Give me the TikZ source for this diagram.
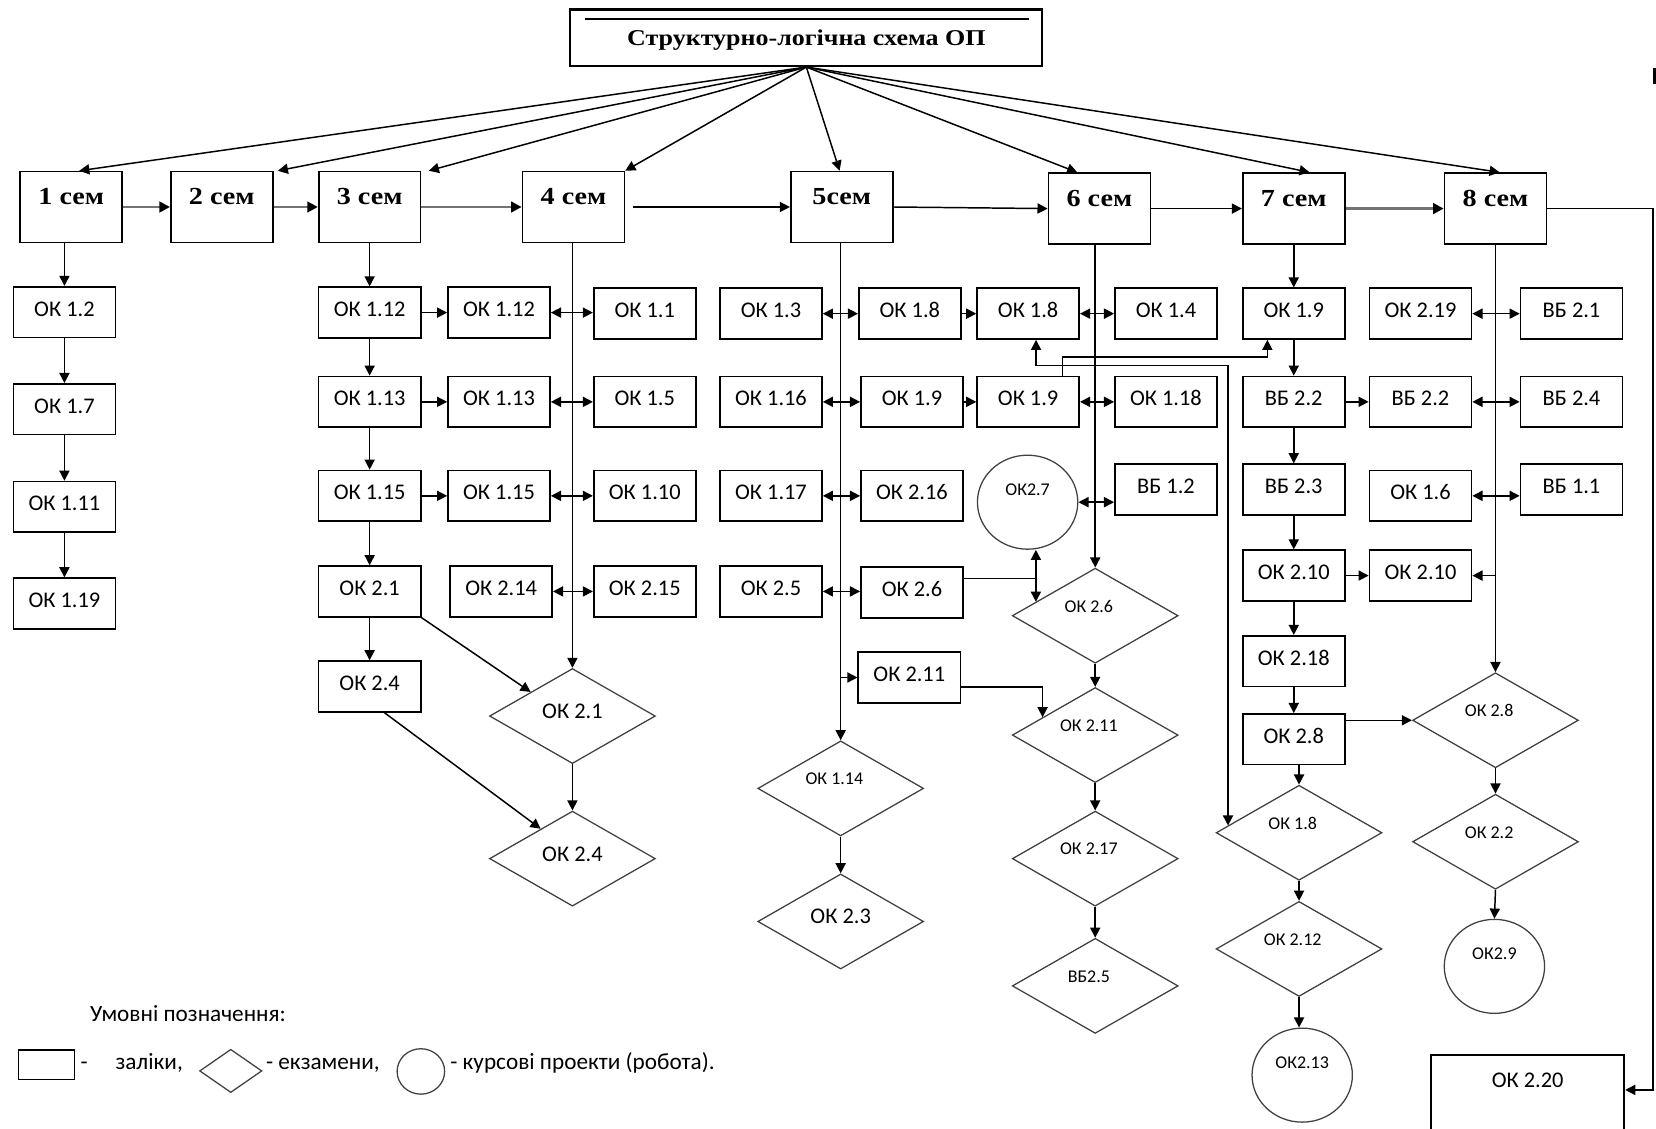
\documentclass[tikz,border=0pt]{standalone}
\usepackage{fontspec}
\setmainfont{Carlito}
\newfontfamily\semfont[FakeStretch=1.15]{Liberation Serif}
\usetikzlibrary{arrows.meta,shapes.geometric,calc}
\begin{document}
\begin{tikzpicture}[x=0.5pt,y=-0.5pt,
  every node/.style={inner sep=0pt},
  ln/.style={line width=0.7pt},
  arr/.style={ln,-{Triangle[length=4.8pt,width=4.8pt]}},
  dbl/.style={ln,{Triangle[length=4.8pt,width=4.8pt]}-{Triangle[length=4.8pt,width=4.8pt]}},
  semg/.style={line width=1.4pt,draw=black!55,-{Triangle[length=5pt,width=5pt,color=black]}},
  zbox/.style={draw,line width=0.8pt,minimum width=48.3pt,minimum height=24pt,
    font=\fontsize{10.6pt}{12pt}\selectfont,text height=6.8pt,text depth=3pt},
  sembox/.style={draw,line width=0.8pt,minimum width=48.25pt,minimum height=33.5pt,
    font=\semfont\bfseries\fontsize{11.6pt}{13pt}\selectfont,text height=7.8pt,text depth=10pt},
  dia/.style={diamond,aspect=1.75,draw=black!75,line width=0.6pt,minimum width=78.5pt,minimum height=45pt,
    font=\fontsize{8.5pt}{10pt}\selectfont,text height=5.5pt,text depth=9pt,
    execute at end node={\hspace*{6pt}}},
  bigdia/.style={diamond,aspect=1.75,draw=black!75,line width=0.6pt,minimum width=78.5pt,minimum height=45pt,
    font=\fontsize{10.6pt}{12pt}\selectfont,text height=6.8pt,text depth=4.5pt},
  ell/.style={ellipse,draw=black!75,line width=0.6pt,minimum width=47.5pt,minimum height=44.5pt,
    font=\fontsize{8.5pt}{10pt}\selectfont,text height=5.5pt,text depth=12pt},
  lgtext/.style={anchor=base west,font=\fontsize{11pt}{13pt}\selectfont}
]
\useasboundingbox (0,0) rectangle (1568,1069);
\clip (0,0) rectangle (1568,1069);

% title
\node[draw,line width=1pt,minimum width=223.5pt,minimum height=26.75pt,
  font=\semfont\bfseries\fontsize{10.7pt}{12pt}\selectfont,text height=7pt,text depth=0pt]
  (title) at (763.5,35.75) {Структурно-логічна схема ОП};
\draw[line width=0.9pt] ($(title.north west)+(15,10)$) -- ($(title.north east)+(-14,10)$);

% semesters
\node[sembox] (s1) at (67.5,196) {1 сем};
\node[sembox] (s2) at (210,196) {2 сем};
\node[sembox] (s3) at (350,196) {3 сем};
\node[sembox] (s4) at (543,196) {4 сем};
\node[sembox] (s5) at (797,196) {5сем};
\node[sembox] (s6) at (1041,197.5) {6 сем};
\node[sembox] (s7) at (1225,197.5) {7 сем};
\node[sembox] (s8) at (1416,197.5) {8 сем};

\draw[arr] (title.south) -- ([xshift=3.75pt]s1.north);
\draw[arr] (title.south) -- ([xshift=2pt]s2.north east);
\draw[arr] (title.south) -- ([xshift=3.5pt]s3.north east);
\draw[arr] (title.south) -- (s4.north east);
\draw[arr] (title.south) -- ([xshift=-1pt]s5.north);
\draw[arr] (title.south) -- ([xshift=-10.5pt]s6.north);
\draw[arr] (title.south) -- ([xshift=7.5pt]s7.north);
\draw[arr] (title.south) -- ([xshift=2pt]s8.north);

\draw[semg] (s1.east) -- (s2.west);
\draw[semg] (s2.east) -- (s3.west);
\draw[semg] (s3.east) -- (s4.west);
\draw[arr] ([xshift=3.5pt]s4.east) -- (s5.west);
\draw[arr] (s5.east) -- (s6.west);
\draw[arr] (s6.east) -- (s7.west);
\draw[semg] (s7.east) -- (s8.west);

% column 1
\node[zbox] (a1) at (61,295.5) {ОК 1.2};
\node[zbox] (a2) at (61,387.5) {ОК 1.7};
\node[zbox] (a3) at (61,480) {ОК 1.11};
\node[zbox] (a4) at (61,571.5) {ОК 1.19};
\draw[arr] (a1.north |- s1.south) -- (a1.north);
\draw[arr] (a1.south) -- (a2.north);
\draw[arr] (a2.south) -- (a3.north);
\draw[arr] (a3.south) -- (a4.north);

% column 3
\node[zbox] (b1) at (350,296) {ОК 1.12};
\node[zbox] (b2) at (350,380.5) {ОК 1.13};
\node[zbox] (b3) at (350,469.5) {ОК 1.15};
\node[zbox] (b4) at (350,560) {ОК 2.1};
\node[zbox] (b5) at (350,650) {ОК 2.4};
\node[zbox] (c1) at (472.5,296) {ОК 1.12};
\node[zbox] (c2) at (472.5,380.5) {ОК 1.13};
\node[zbox] (c3) at (472.5,469.5) {ОК 1.15};
\node[zbox] (c4) at (474.5,560) {ОК 2.14};
\draw[arr] (b1.north |- s3.south) -- (b1.north);
\draw[arr] (b1.south) -- (b2.north);
\draw[arr] (b2.south) -- (b3.north);
\draw[arr] (b3.south) -- (b4.north);
\draw[arr] (b4.south) -- (b5.north);
\draw[arr] (b1.east) -- (c1.west);
\draw[arr] (b2.east) -- (c2.west);
\draw[arr] (b3.east) -- (c3.west);

% column 4
\node[zbox] (d1) at (610.5,297) {ОК 1.1};
\node[zbox] (d2) at (610.5,380.5) {ОК 1.5};
\node[zbox] (d3) at (610.5,469.5) {ОК 1.10};
\node[zbox] (d4) at (610.5,560) {ОК 2.15};
\node[bigdia] (D21) at (542,678) {ОК 2.1};
\node[bigdia] (D24) at (542,813) {ОК 2.4};
\draw[arr] (D21.north |- s4.south) -- (D21.north);
\draw[dbl] (c1.east) -- (c1.east -| d1.west);
\draw[dbl] (c2.east) -- (c2.east -| d2.west);
\draw[dbl] (c3.east) -- (c3.east -| d3.west);
\draw[dbl] (c4.east) -- (c4.east -| d4.west);
\draw[arr] (b4.south east) -- (D21.north west);
\draw[arr] ([xshift=7pt]b5.south) -- ($(D24.west)!0.62!(D24.north)$);
\draw[arr] (D21.south) -- (D24.north);

% column 5
\node[zbox] (e1) at (730,297) {ОК 1.3};
\node[zbox] (e2) at (730,380.5) {ОК 1.16};
\node[zbox] (e3) at (730,469.5) {ОК 1.17};
\node[zbox] (e4) at (730,560) {ОК 2.5};
\node[zbox] (f1) at (861.5,297) {ОК 1.8};
\node[zbox] (f2) at (863.5,380.5) {ОК 1.9};
\node[zbox] (f3) at (863.5,469.5) {ОК 2.16};
\node[zbox] (f4) at (863.5,561) {ОК 2.6};
\node[zbox] (f5) at (861,641.5) {ОК 2.11};
\node[dia] (D114) at (796,746.5) {ОК 1.14};
\node[bigdia] (D23) at (796,872.5) {ОК 2.3};
\draw[arr] (D114.north |- s5.south) -- (D114.north);
\draw[dbl] (e1.east) -- (e1.east -| f1.west);
\draw[dbl] (e2.east) -- (e2.east -| f2.west);
\draw[dbl] (e3.east) -- (e3.east -| f3.west);
\draw[dbl] (e4.east) -- (e4.east -| f4.west);
\draw[arr] (D114.north |- f5.west) -- (f5.west);
\draw[arr] (D114.south) -- (D23.north);

% column 6
\node[zbox] (g1) at (973.5,297) {ОК 1.8};
\node[zbox] (g2) at (973.5,380.5) {ОК 1.9};
\node[ell] (C27) at (973,475.5) {ОК2.7};
\node[zbox] (h1) at (1104,297) {ОК 1.4};
\node[zbox] (h2) at (1104,380.5) {ОК 1.18};
\node[zbox] (h3) at (1104,463.5) {ВБ 1.2};
\node[dia] (D26) at (1037,583) {ОК 2.6};
\node[dia] (D211) at (1037,696) {ОК 2.11};
\node[dia] (D217) at (1037,813) {ОК 2.17};
\node[dia] (D25) at (1037,933.5) {ВБ2.5};
\draw[arr] (f1.east) -- (f1.east -| g1.west);
\draw[arr] (f2.east) -- (f2.east -| g2.west);
\draw[arr] (D26.north |- s6.south) -- (D26.north);
\draw[dbl] (g1.east) -- (g1.east -| h1.west);
\draw[dbl] (g2.east) -- (g2.east -| h2.west);
\draw[dbl] (C27.east) -- (C27.east -| h3.west);
\coordinate (e26) at ($(D26.west)!0.29!(D26.north)$);
\coordinate (m26) at ([yshift=6.5pt]f4.east);
\draw[ln] (m26) -- (m26 -| e26);
\draw[dbl] (C27.south -| e26) -- (e26);
\draw[arr] ([yshift=-4.5pt]f5.east) -| ($(D211.west)!0.37!(D211.north)$);
\draw[arr] (D26.south) -- (D211.north);
\draw[arr] (D211.south) -- (D217.north);
\draw[arr] (D217.south) -- (D25.north);

% column 7
\node[zbox] (i1) at (1225,297) {ОК 1.9};
\node[zbox] (i2) at (1225,380.5) {ВБ 2.2};
\node[zbox] (i3) at (1225,463.5) {ВБ 2.3};
\node[zbox] (i4) at (1225,545) {ОК 2.10};
\node[zbox] (i5) at (1225,626) {ОК 2.18};
\node[zbox] (i6) at (1225,700) {ОК 2.8};
\node[zbox] (j1) at (1345,297) {ОК 2.19};
\node[zbox] (j2) at (1345,380.5) {ВБ 2.2};
\node[zbox] (j3) at (1345,469.5) {ОК 1.6};
\node[zbox] (j4) at (1345,545) {ОК 2.10};
\node[dia] (D18) at (1230,788.5) {ОК 1.8};
\node[dia] (D212) at (1230,898.5) {ОК 2.12};
\node[ell] (C213) at (1233,1018) {ОК2.13};
\draw[arr] (s7.south) -- (i1.north);
\draw[arr] (i1.south) -- (i2.north);
\draw[arr] (i2.south) -- (i3.north);
\draw[arr] (i3.south) -- (i4.north);
\draw[arr] (i4.south) -- (i5.north);
\draw[arr] (i5.south) -- (i6.north);
\draw[arr] (i6.south -| D18.north) -- (D18.north);
\draw[arr] (D18.south) -- (D212.north);
\draw[arr] (D212.south) -- (D212.south |- C213.north);
\draw[arr] (i2.east) -- (i2.east -| j2.west);
\draw[arr] (i4.east) -- (i4.east -| j4.west);
\draw[arr] ([xshift=16.25pt]g2.north) -- ++(0,-17.5) -| ([xshift=-12.5pt]i1.south);
\coordinate (e18) at ($(D18.west)!0.15!(D18.north)$);
\coordinate (r18) at (0,346);
\draw[dbl] ([xshift=3.75pt]g1.south) |- (e18 |- r18) -- (e18);

% column 8
\node[zbox] (k1) at (1488,297) {ВБ 2.1};
\node[zbox] (k2) at (1488,380.5) {ВБ 2.4};
\node[zbox] (k3) at (1488,463.5) {ВБ 1.1};
\node[dia] (D28) at (1416,682) {ОК 2.8};
\node[dia] (D22) at (1416,797) {ОК 2.2};
\node[ell] (C29) at (1415,915) {ОК2.9};
\node[draw,line width=0.8pt,anchor=north,minimum width=91.5pt,minimum height=50pt,
  font=\fontsize{10.6pt}{12pt}\selectfont,text height=6.8pt,text depth=26.3pt]
  (ok220) at (1446.5,998) {ОК 2.20};
\draw[arr] (i6.east |- D28.west) -- (D28.west);
\draw[arr] (D28.north |- s8.south) -- (D28.north);
\draw[dbl] (j1.east) -- (j1.east -| k1.west);
\draw[dbl] (j2.east) -- (j2.east -| k2.west);
\draw[dbl] (j3.east) -- (j3.east -| k3.west);
\draw[arr] (D28.north |- j4.east) -- (j4.east);
\draw[arr] (D28.south) -- (D22.north);
\draw[arr] (D22.south) -- (C29.north);
\coordinate (r220) at (1565,1032);
\draw[arr] (s8.east) -| (r220) -- (r220 -| ok220.east);
\draw[line width=1.3pt] (1566.5,64) -- (1566.5,80);

% legend
\node[lgtext] (lg) at (85,967.5) {Умовні позначення:};
\node[draw,line width=0.7pt,minimum width=26.5pt,minimum height=14pt] (lgr) at (43.8,1008) {};
\node[lgtext] (lgt1) at (76,1013) {-};
\node[lgtext] (lgt2) at (109,1013) {заліки,};
\node[diamond,aspect=1.44,draw=black!75,line width=0.6pt,minimum width=29.5pt,minimum height=20.5pt] (lgd) at (218.5,1014) {};
\node[lgtext] (lgt3) at (251.5,1013) {- екзамени,};
\node[ellipse,draw=black!75,line width=0.6pt,minimum width=22.5pt,minimum height=21.5pt] (lge) at (398.5,1014.5) {};
\node[lgtext] (lgt4) at (426,1013) {- курсові проекти (робота).};
\end{tikzpicture}
\end{document}
